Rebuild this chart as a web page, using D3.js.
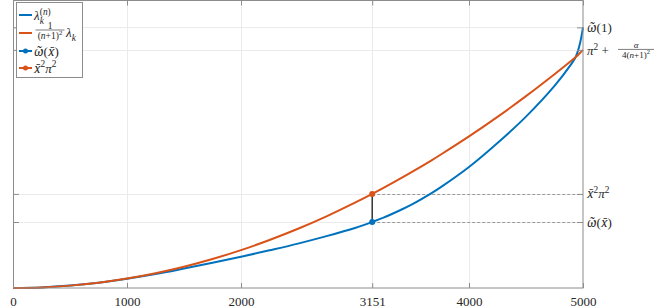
<!DOCTYPE html>
<html><head><meta charset="utf-8">
<script src="https://cdn.jsdelivr.net/npm/d3@7"></script>
<style>html,body{margin:0;padding:0;background:#fff;}svg{display:block;}</style>
</head><body>
<svg id="c" width="654" height="308"></svg>
<script>
// ---- data ----
const xGrid = [0,250,500,750,1000,1250,1500,1750,2000,2250,2500,2750,3000,3151,3250,3400,3500,3675,3750,4000,4250,4500,4750,4900,4930,4950,4975,5000];
const lambdaN = [0,0.025,0.10,0.22,0.385,0.58,0.81,1.05,1.30,1.57,1.85,2.16,2.50,2.75,2.93,3.25,3.48,3.96,4.19,5.04,6.04,7.14,8.42,9.35,9.57,9.80,10.22,10.86];
const lambdaScaled = [0,0.025,0.099,0.222,0.395,0.617,0.888,1.209,1.579,1.999,2.467,2.986,3.553,3.92,4.17,4.565,4.836,5.330,5.552,6.317,7.131,7.994,8.907,9.479,9.60,9.68,9.80,9.92];
const xBar = 3151;
const omegaBar = 2.75;
const xBar2Pi2 = 3.92;
const xTicks = [0,1000,2000,3151,4000,5000];
const xTickLabels = ["0","1000","2000","3151","4000","5000"];
const yTicks = [2.75,3.92,9.92,10.86];
const yTickNames = ["omegaBar","xbar2pi2","pi2alpha","omega1"];
const legendNames = ["lambdaN","lambdaScaled","omegaBar","xbar2pi2"];

const blue = "#0072BD", orange = "#D95319";
const serif = "Liberation Serif";
const accentFont = "Noto Serif";
const axisCol = "#8c8c8c", textCol = "#262626";

const svg = d3.select("#c");
const L = 13, R = 583, T = 0.5, B = 288;
const x = d3.scaleLinear().domain([0,5000]).range([L,R]);
const y = d3.scaleLinear().domain([0,12]).range([B,0]);

// grid
const g = svg.append("g");
g.selectAll(".vg").data(xTicks.slice(1,-1)).join("line")
  .attr("x1",d=>Math.round(x(d))+0.5).attr("x2",d=>Math.round(x(d))+0.5).attr("y1",T).attr("y2",B)
  .attr("stroke","#ebebeb").attr("stroke-width",1);
g.selectAll(".hg").data(yTicks).join("line")
  .attr("x1",L).attr("x2",R).attr("y1",d=>Math.round(y(d))+0.5).attr("y2",d=>Math.round(y(d))+0.5)
  .attr("stroke","#ebebeb").attr("stroke-width",1);

// dashed reference lines
[omegaBar, xBar2Pi2].forEach(v=>{
  svg.append("line").attr("x1",x(xBar)).attr("x2",R).attr("y1",Math.round(y(v))+0.5).attr("y2",Math.round(y(v))+0.5)
    .attr("stroke","#9a9a9a").attr("stroke-width",1).attr("stroke-dasharray","3,2");
});

// curves
const line = d3.line().x((d,i)=>x(xGrid[i])).y(d=>y(d)).curve(d3.curveCatmullRom.alpha(0.5));
svg.append("path").attr("d",line(lambdaN)).attr("fill","none").attr("stroke",blue).attr("stroke-width",2);
svg.append("path").attr("d",line(lambdaScaled)).attr("fill","none").attr("stroke",orange).attr("stroke-width",2);

// vertical segment + dots
svg.append("line").attr("x1",x(xBar)).attr("x2",x(xBar)).attr("y1",y(omegaBar)).attr("y2",y(xBar2Pi2))
  .attr("stroke","#333").attr("stroke-width",1.5);
svg.append("circle").attr("cx",x(xBar)).attr("cy",y(omegaBar)).attr("r",3).attr("fill",blue);
svg.append("circle").attr("cx",x(xBar)).attr("cy",y(xBar2Pi2)).attr("r",3).attr("fill",orange);

// axes
function styleAxis(sel){
  sel.attr("font-family",serif).attr("font-size",13);
  sel.selectAll(".domain").remove();
  sel.selectAll(".tick line").attr("stroke",axisCol);
  sel.selectAll("text").attr("fill",textCol);
}
const axB = svg.append("g").attr("transform",`translate(0,${B})`)
  .call(d3.axisBottom(x).tickValues(xTicks).tickSize(-5).tickPadding(9).tickFormat((d,i)=>xTickLabels[i]));
styleAxis(axB);
const axT = svg.append("g").attr("transform",`translate(0,${T})`)
  .call(d3.axisTop(x).tickValues(xTicks).tickSize(-5).tickFormat(""));
styleAxis(axT);
const axL = svg.append("g").attr("transform",`translate(${L},0)`)
  .call(d3.axisLeft(y).tickValues(yTicks).tickSize(-6).tickFormat(""));
styleAxis(axL);
const axR = svg.append("g").attr("transform",`translate(${R},0)`)
  .call(d3.axisRight(y).tickValues(yTicks).tickSize(-6).tickFormat(""));
styleAxis(axR);

// box
svg.append("rect").attr("x",L+0.5).attr("y",T).attr("width",R-L-0.5).attr("height",B-T)
  .attr("fill","none").attr("stroke",axisCol).attr("stroke-width",1);

// math text helper
function math(sel, px, py, parts, size, anchor){
  const t = sel.append("text").attr("x",px).attr("y",py).attr("fill",textCol)
    .attr("font-family",serif).attr("font-size",size);
  if(anchor) t.attr("text-anchor",anchor);
  let cur = 0;
  parts.forEach(p=>{
    const off = p.sup ? -size*0.4 : p.sub ? size*0.28 : 0;
    const ts = t.append("tspan").attr("dy",off-cur).text(p.t);
    cur = off;
    if(p.i) ts.attr("font-style","italic");
    if(p.sup||p.sub) ts.attr("font-size",size*0.72);
    if(p.acc) ts.attr("font-family",accentFont).attr("font-size",size*0.92);
    if(p.dx!==undefined) ts.attr("dx",p.dx);
  });
  return t;
}
function frac(sel, cx, barY, num, den, size, w){
  math(sel, cx, barY-1.5, num, size, "middle");
  math(sel, cx, barY+size*0.9, den, size, "middle");
  sel.append("line").attr("x1",cx-w/2).attr("x2",cx+w/2).attr("y1",barY).attr("y2",barY)
    .attr("stroke",textCol).attr("stroke-width",0.6);
}

// right tick labels
const lab = svg.append("g");
const omegaT = "\u03C9\u0303", xbarT = "x\u0304";
const rightLabels = {
  omega1: (yy)=>math(lab, 587, yy+4.5, [{t:omegaT,i:true,acc:true},{t:"(1)"}], 13),
  pi2alpha: (yy)=>{
    math(lab, 587, yy+5, [{t:"\u03C0",i:true},{t:"2",sup:true},{t:" + "}], 13);
    frac(lab, 636, yy-0.5, [{t:"\u03B1",i:true}], [{t:"4("},{t:"n",i:true},{t:"+1)"},{t:"2",sup:true}], 9, 36);
  },
  xbar2pi2: (yy)=>math(lab, 587, yy+4.5, [{t:xbarT,i:true,acc:true},{t:"2",sup:true},{t:"\u03C0",i:true},{t:"2",sup:true}], 13),
  omegaBar: (yy)=>math(lab, 587, yy+4.5, [{t:omegaT,i:true,acc:true},{t:"("},{t:xbarT,i:true,acc:true},{t:")"}], 13)
};
yTicks.forEach((v,i)=>rightLabels[yTickNames[i]](y(v)));

// legend
const lg = svg.append("g");
lg.append("rect").attr("x",16.5).attr("y",2.5).attr("width",66).attr("height",75)
  .attr("fill","#fff").attr("stroke",axisCol).attr("stroke-width",1);
const legY = [15,33,51,68];
const legCol = [blue, orange, blue, orange];
const legDot = [false,false,true,true];
legendNames.forEach((n,i)=>{
  lg.append("line").attr("x1",19).attr("x2",32).attr("y1",legY[i]).attr("y2",legY[i])
    .attr("stroke",legCol[i]).attr("stroke-width",2);
  if(legDot[i]) lg.append("circle").attr("cx",25.5).attr("cy",legY[i]).attr("r",2.5).attr("fill",legCol[i]);
});
math(lg, 34, legY[0]+5, [{t:"\u03BB",i:true},{t:"k",sub:true,i:true},{t:"(",sup:true,dx:-4},{t:"n",sup:true,i:true},{t:")",sup:true}], 13);
frac(lg, 50, 30, [{t:"1"}], [{t:"("},{t:"n",i:true},{t:"+1)"},{t:"2",sup:true}], 9.5, 29);
math(lg, 66, 37, [{t:"\u03BB",i:true},{t:"k",sub:true,i:true}], 13);
math(lg, 34, legY[2]+4.5, [{t:omegaT,i:true,acc:true},{t:"("},{t:xbarT,i:true,acc:true},{t:")"}], 13);
math(lg, 34, legY[3]+4.5, [{t:xbarT,i:true,acc:true},{t:"2",sup:true},{t:"\u03C0",i:true},{t:"2",sup:true}], 13);
</script>
</body></html>
